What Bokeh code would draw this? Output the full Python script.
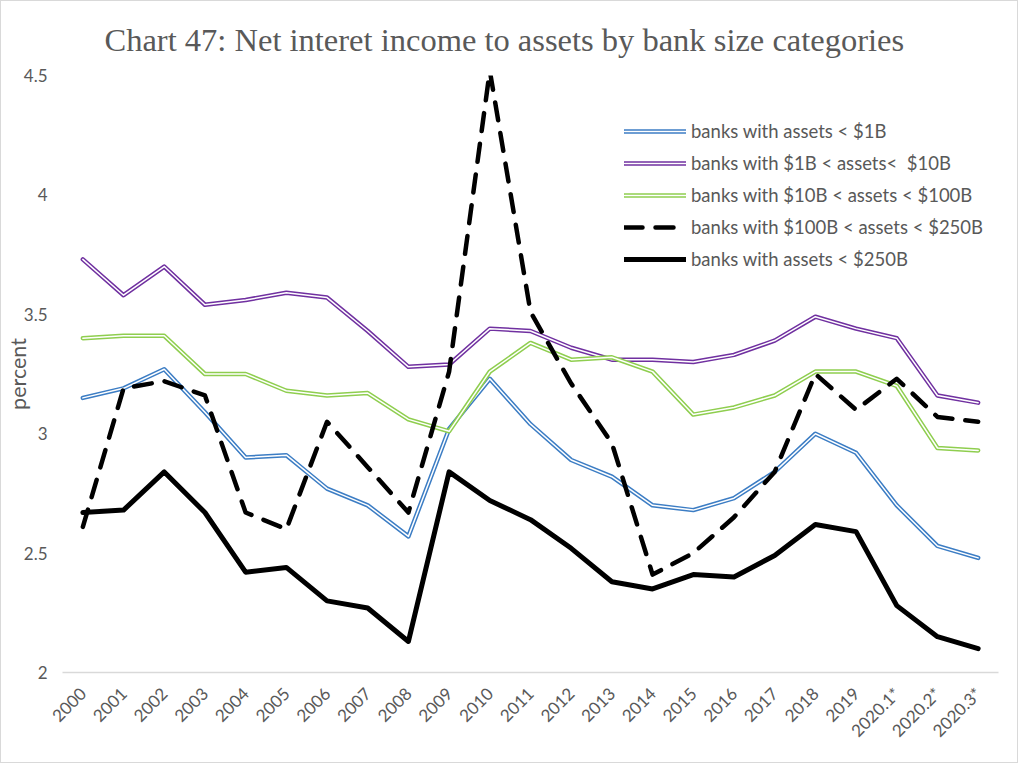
from bokeh.plotting import figure
from bokeh.models import FactorRange, Range1d, Legend, LegendItem, ColumnDataSource, FixedTicker
from bokeh.embed import file_html
from bokeh.resources import INLINE

categories = ["2000", "2001", "2002", "2003", "2004", "2005", "2006", "2007", "2008", "2009",
              "2010", "2011", "2012", "2013", "2014", "2015", "2016", "2017", "2018", "2019",
              "2020.1*", "2020.2*", "2020.3*"]

under_1b = [3.15, 3.19, 3.27, 3.09, 2.90, 2.91, 2.77, 2.70, 2.57, 3.02,
            3.23, 3.04, 2.89, 2.82, 2.70, 2.68, 2.73, 2.84, 3.00, 2.92,
            2.70, 2.53, 2.48]
b1_10 = [3.73, 3.58, 3.70, 3.54, 3.56, 3.59, 3.57, 3.43, 3.28, 3.29,
         3.44, 3.43, 3.36, 3.31, 3.31, 3.30, 3.33, 3.39, 3.49, 3.44,
         3.40, 3.16, 3.13]
b10_100 = [3.40, 3.41, 3.41, 3.25, 3.25, 3.18, 3.16, 3.17, 3.06, 3.01,
           3.26, 3.38, 3.31, 3.32, 3.26, 3.08, 3.11, 3.16, 3.26, 3.26,
           3.20, 2.94, 2.93]
b100_250 = [2.61, 3.19, 3.22, 3.16, 2.67, 2.60, 3.05, 2.86, 2.67, 3.26,
            4.52, 3.51, 3.21, 2.96, 2.41, 2.50, 2.65, 2.84, 3.25, 3.10,
            3.23, 3.07, 3.05]
over_250 = [2.67, 2.68, 2.84, 2.67, 2.42, 2.44, 2.30, 2.27, 2.13, 2.84,
            2.72, 2.64, 2.52, 2.38, 2.35, 2.41, 2.40, 2.49, 2.62, 2.59,
            2.28, 2.15, 2.10]

labels = ["banks with assets < $1B", "banks with $1B < assets<  $10B",
          "banks with $10B < assets < $100B", "banks with $100B < assets < $250B",
          "banks with assets < $250B"]

y_ticks = [2, 2.5, 3, 3.5, 4, 4.5]

GRAY = "#595959"
FONT = "Lato"

p = figure(width=1018, height=763, x_range=FactorRange(factors=categories, range_padding=0),
           y_range=Range1d(2, 4.5), output_backend="svg", toolbar_location=None,
           min_border_left=61, min_border_right=21, min_border_top=74, min_border_bottom=92)

p.title.text = "Chart 47: Net interet income to assets by bank size categories"
p.title.align = "left"
p.title.offset = 42
p.title.text_font = "Liberation Serif"
p.title.text_font_size = "32.5px"
p.title.text_font_style = "normal"
p.title.text_color = GRAY
p.title.standoff = 35

p.outline_line_color = None
p.xgrid.grid_line_color = None
p.ygrid.grid_line_color = None
p.styles = {"border": "1px solid #d9d9d9"}

src = ColumnDataSource(dict(x=categories, a=under_1b, b=b1_10, c=b10_100, d=b100_250, e=over_250))

items = []
colors = {"a": "#3c7dc4", "b": "#7030a0", "c": "#8fce4f"}
for key, lab in zip(["a", "b", "c"], labels[:3]):
    outer = p.line("x", key, source=src, line_color=colors[key], line_width=4.5, line_join="round", line_cap="round")
    inner = p.line("x", key, source=src, line_color="white", line_width=1.5, line_join="round", line_cap="round")
    items.append(LegendItem(label=lab, renderers=[outer, inner]))

dash = p.line("x", "d", source=src, line_color="black", line_width=4.5, line_dash="18 13",
              line_join="round", line_cap="round")
items.append(LegendItem(label=labels[3], renderers=[dash]))
solid = p.line("x", "e", source=src, line_color="black", line_width=5, line_join="round", line_cap="round")
items.append(LegendItem(label=labels[4], renderers=[solid]))

legend = Legend(items=items, location=(562, 402), padding=0, margin=0, spacing=10,
                glyph_width=62, glyph_height=20, label_height=20, label_standoff=5,
                label_text_font=FONT, label_text_font_size="18.5px", label_text_color=GRAY,
                background_fill_alpha=0, border_line_color=None)
p.add_layout(legend, "center")

p.yaxis.ticker = FixedTicker(ticks=y_ticks)
p.yaxis.major_tick_line_color = None
p.yaxis.major_tick_out = 0
p.yaxis.major_tick_in = 0
p.yaxis.minor_tick_line_color = None
p.yaxis.axis_line_color = None
p.yaxis.major_label_standoff = 15
p.yaxis.major_label_text_font = FONT
p.yaxis.major_label_text_font_size = "17px"
p.yaxis.major_label_text_color = GRAY
p.yaxis.axis_label = "percent"
p.yaxis.axis_label_text_font = FONT
p.yaxis.axis_label_text_font_size = "21.5px"
p.yaxis.axis_label_text_font_style = "normal"
p.yaxis.axis_label_text_color = GRAY
p.yaxis.axis_label_standoff = -10

p.xaxis.axis_line_color = "#d9d9d9"
p.xaxis.axis_line_width = 1.5
p.xaxis.major_tick_line_color = None
p.xaxis.major_tick_out = 0
p.xaxis.major_tick_in = 0
p.xaxis.minor_tick_line_color = None
p.xaxis.major_label_orientation = 0.785398
p.xaxis.major_label_standoff = 18
p.xaxis.major_label_text_font = FONT
p.xaxis.major_label_text_font_size = "17px"
p.xaxis.major_label_text_color = GRAY

open("out.html", "w").write(file_html(p, INLINE))
